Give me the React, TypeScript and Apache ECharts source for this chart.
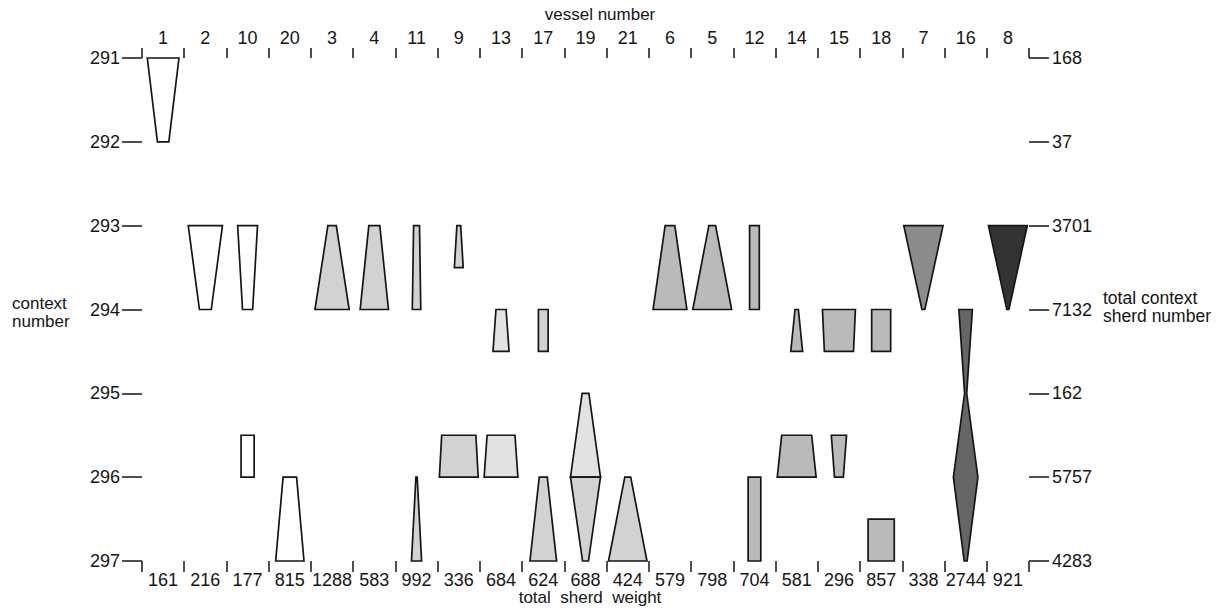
import React, { useEffect, useRef } from "react";
import * as echarts from "echarts";

const vessels = ["1", "2", "10", "20", "3", "4", "11", "9", "13", "17", "19", "21", "6", "5", "12", "14", "15", "18", "7", "16", "8"];
const sherdWeights = ["161", "216", "177", "815", "1288", "583", "992", "336", "684", "624", "688", "424", "579", "798", "704", "581", "296", "857", "338", "2744", "921"];
const contexts = [291, 292, 293, 294, 295, 296, 297];
const contextSherds = ["168", "37", "3701", "7132", "162", "5757", "4283"];

// each piece: vessel, tone (0 = white ... 6 = darkest), profile of [context, relative width %]
const pieces: [string, number, [number, number][]][] = [
  ["1", 0, [[291, 75], [292, 27]]],
  ["2", 0, [[293, 81], [294, 28]]],
  ["10", 0, [[293, 47], [294, 24]]],
  ["10", 0, [[295.5, 31], [296, 31]]],
  ["20", 0, [[296, 32], [297, 67]]],
  ["3", 2, [[293, 20], [294, 81]]],
  ["4", 2, [[293, 26], [294, 67]]],
  ["11", 2, [[293, 14], [294, 20]]],
  ["11", 2, [[296, 3], [297, 24]]],
  ["9", 2, [[293, 9], [293.5, 21]]],
  ["9", 2, [[295.5, 81], [296, 92]]],
  ["13", 1, [[294, 24], [294.5, 38]]],
  ["13", 1, [[295.5, 66], [296, 80]]],
  ["17", 2, [[294, 23], [294.5, 23]]],
  ["17", 2, [[296, 19], [297, 63]]],
  ["19", 1, [[295, 16], [296, 71]]],
  ["19", 2, [[296, 71], [297, 14]]],
  ["21", 2, [[296, 14], [297, 91]]],
  ["6", 3, [[293, 23], [294, 80]]],
  ["5", 3, [[293, 16], [294, 92]]],
  ["12", 3, [[293, 23], [294, 23]]],
  ["12", 3, [[296, 30], [297, 30]]],
  ["14", 3, [[294, 8], [294.5, 28]]],
  ["14", 3, [[295.5, 71], [296, 92]]],
  ["15", 3, [[294, 78], [294.5, 69]]],
  ["15", 3, [[295.5, 36], [296, 21]]],
  ["18", 3, [[294, 45], [294.5, 45]]],
  ["18", 3, [[296.5, 62], [297, 62]]],
  ["7", 4, [[293, 93], [294, 7]]],
  ["16", 5, [[294, 32], [295, 5], [296, 58], [297, 7]]],
  ["8", 6, [[293, 92], [294, 5]]],
];

const toneColors = ["#ffffff", "#e2e2e2", "#d2d2d2", "#bababa", "#8c8c8c", "#666666", "#333333"];
const FONT = "'Liberation Sans', Arial, sans-serif";
const INK = "#151515";

export default function App() {
  const ref = useRef<HTMLDivElement>(null);
  useEffect(() => {
    if (!ref.current) return;
    const chart = echarts.init(ref.current, undefined, { renderer: "svg" });
    const tick = { show: true, lineStyle: { color: INK, width: 1.5 } };
    const label = { color: INK, fontSize: 18, fontFamily: FONT };
    chart.setOption({
      animation: false,
      backgroundColor: "#ffffff",
      grid: { left: 142, right: 191, top: 58, bottom: 47, containLabel: false },
      xAxis: [
        {
          type: "category", position: "top", data: vessels, boundaryGap: true,
          axisLine: { show: false },
          axisTick: { ...tick, length: 10, interval: 0 },
          axisLabel: { ...label, margin: 11, interval: 0 },
          splitLine: { show: false },
        },
        {
          type: "category", position: "bottom", data: sherdWeights, boundaryGap: true,
          axisLine: { show: false },
          axisTick: { ...tick, length: 11, interval: 0 },
          axisLabel: { ...label, margin: 10, interval: 0 },
          splitLine: { show: false },
        },
      ],
      yAxis: [
        {
          type: "value", position: "left", inverse: true, min: contexts[0], max: contexts[contexts.length - 1], interval: 1,
          axisLine: { show: false },
          axisTick: { ...tick, length: 20 },
          axisLabel: { ...label, margin: 22 },
          splitLine: { show: false },
        },
        {
          type: "value", position: "right", inverse: true, min: contexts[0], max: contexts[contexts.length - 1], interval: 1,
          axisLine: { show: false },
          axisTick: { ...tick, length: 20 },
          axisLabel: { ...label, margin: 23, formatter: (v: number) => contextSherds[contexts.indexOf(v)] ?? "" },
          splitLine: { show: false },
        },
      ],
      series: [
        {
          type: "custom",
          xAxisIndex: 0,
          yAxisIndex: 0,
          clip: false,
          data: pieces.map((p) => [vessels.indexOf(p[0]), p[2][0][0]]),
          renderItem: (params: any, api: any) => {
            const piece = pieces[params.dataIndex];
            const xi = vessels.indexOf(piece[0]);
            const band = api.size([1, 0])[0];
            const left: number[][] = [];
            const right: number[][] = [];
            piece[2].forEach(([ctx, w]) => {
              const c = api.coord([xi, ctx]);
              const hw = (w / 100) * band / 2;
              left.push([c[0] - hw, c[1]]);
              right.push([c[0] + hw, c[1]]);
            });
            const points = left.concat(right.reverse());
            return {
              type: "polygon",
              shape: { points },
              style: { fill: toneColors[piece[1]], stroke: INK, lineWidth: 1.7, lineJoin: "miter" },
            };
          },
        },
      ],
      graphic: [
        { type: "text", x: 600, y: 6, style: { text: "vessel number", fontSize: 17, fontFamily: FONT, fill: INK, textAlign: "center" } },
        { type: "text", x: 590, y: 589, style: { text: "total  sherd  weight", fontSize: 17, fontFamily: FONT, fill: INK, textAlign: "center" } },
        { type: "text", x: 12, y: 294, style: { text: "context\nnumber", fontSize: 17, lineHeight: 18, fontFamily: FONT, fill: INK } },
        { type: "text", x: 1103, y: 289, style: { text: "total context\nsherd number", fontSize: 17.5, lineHeight: 18, fontFamily: FONT, fill: INK } },
      ],
    });
    return () => chart.dispose();
  }, []);
  return <div ref={ref} style={{ position: "fixed", left: 0, top: 0, width: 1220, height: 608, background: "#fff" }} />;
}
